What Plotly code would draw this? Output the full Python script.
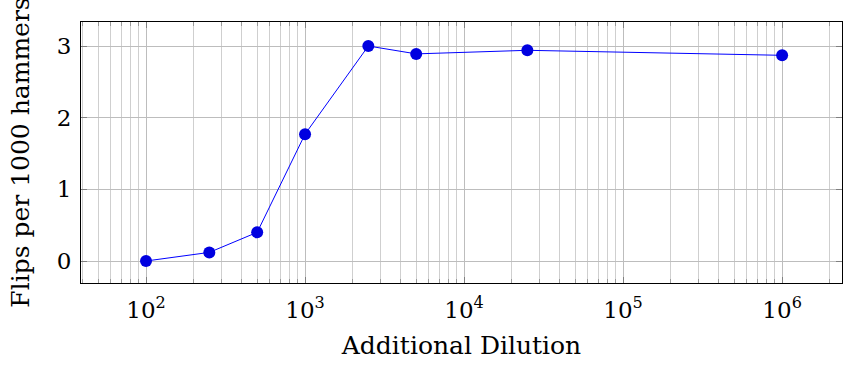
import plotly.graph_objects as go
import numpy as np

dilution = [100, 250, 500, 1000, 2500, 5000, 25000, 1000000]
flips = [0.0, 0.12, 0.40, 1.77, 3.00, 2.89, 2.94, 2.87]

major_x = [1e2, 1e3, 1e4, 1e5, 1e6]
major_x_text = ["10<sup>2</sup>", "10<sup>3</sup>", "10<sup>4</sup>", "10<sup>5</sup>", "10<sup>6</sup>"]
minor_x = [m * 10 ** k for k in range(1, 7) for m in range(2, 10)]
y_ticks = [0, 1, 2, 3]

FONT = "DejaVu Serif"

fig = go.Figure()
fig.add_trace(go.Scatter(
    x=dilution, y=flips, mode="lines+markers",
    line=dict(color="#0000ff", width=1),
    marker=dict(color="#0000e0", size=12),
    showlegend=False,
))

fig.update_layout(
    width=843, height=367,
    margin=dict(l=81, r=1, t=22, b=84),
    paper_bgcolor="white", plot_bgcolor="white",
    font=dict(family=FONT, size=22, color="black"),
)
fig.update_xaxes(
    type="log", range=[np.log10(39), np.log10(2.38e6)],
    tickvals=major_x, ticktext=major_x_text,
    showgrid=True, gridcolor="#bdbdbd", gridwidth=1,
    ticks="inside", ticklen=6, tickcolor="#808080", mirror="allticks",
    showline=True, linecolor="black", linewidth=1,
    minor=dict(tickvals=minor_x, showgrid=True, gridcolor="#cfcfcf", gridwidth=1,
               ticks="inside", ticklen=4, tickcolor="#9a9a9a"),
    title=dict(text="Additional Dilution", font=dict(size=25, family=FONT), standoff=14),
    tickfont=dict(size=23, family=FONT),
    ticklabelstandoff=6,
    zeroline=False, automargin=False,
)
fig.update_yaxes(
    range=[-0.307, 3.335],
    tickvals=y_ticks,
    showgrid=True, gridcolor="#bdbdbd", gridwidth=1,
    ticks="inside", ticklen=6, tickcolor="#808080", mirror="allticks",
    showline=True, linecolor="black", linewidth=1,
    title=dict(text="Flips per 1000 hammers", font=dict(size=25, family=FONT), standoff=20),
    tickfont=dict(size=23, family=FONT),
    ticklabelstandoff=4,
    zeroline=False, automargin=False,
)

fig.write_html(
    "out.html",
    config={"displayModeBar": False},
    post_script="document.body.style.margin='0';document.body.style.overflow='hidden';",
)
